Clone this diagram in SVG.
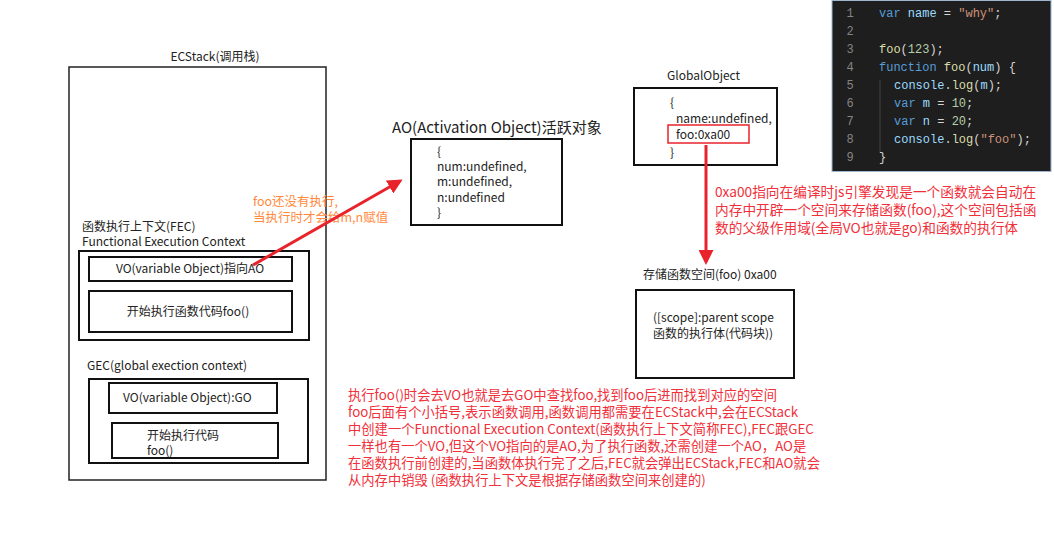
<svg xmlns="http://www.w3.org/2000/svg" width="1054" height="536" viewBox="0 0 1054 536">
<defs>
<style>
.t{font-family:"Noto Sans CJK SC","Noto Sans",sans-serif;font-size:12px;fill:#222}
.r{font-family:"Noto Sans CJK SC","Noto Sans",sans-serif;font-size:13.3px;fill:#f0303a}
.r2{font-family:"Noto Sans CJK SC","Noto Sans",sans-serif;font-size:13.7px;fill:#f0303a}
.o{font-family:"Noto Sans CJK SC","Noto Sans",sans-serif;font-size:12.5px;fill:#ff8a3d}
.b{fill:none;stroke:#111;stroke-width:2}
.c{font-family:"Liberation Mono","DejaVu Sans Mono",monospace;font-size:12px;fill:#d4d4d4}
.ln{fill:#858585}
.kw{fill:#569cd6}.vr{fill:#9cdcfe}.st{fill:#ce9178}.fn{fill:#dcdcaa}.nm{fill:#b5cea8}
</style>
<marker id="ah" viewBox="0 0 10 10" refX="8" refY="5" markerWidth="5" markerHeight="5" orient="auto" markerUnits="strokeWidth">
<path d="M0,0 L10,5 L0,10 z" fill="#e8232b"/>
</marker>
</defs>
<rect width="1054" height="536" fill="#fff"/>

<g id="ecstack">
<text class="t" x="215" y="61" text-anchor="middle">ECStack(调用栈)</text>
<rect x="69" y="67" width="257" height="413" fill="none" stroke="#222" stroke-width="1.5"/>
</g>

<g id="fec">
<text class="t" x="82" y="231">函数执行上下文(FEC)</text>
<text class="t" x="82" y="246">Functional Execution Context</text>
<rect class="b" x="79" y="251" width="230" height="89"/>
</g>
<g id="fec-vo">
<rect class="b" x="89" y="257" width="203" height="24"/>
<text class="t" x="190" y="273" text-anchor="middle">VO(variable Object)指向AO</text>
</g>
<g id="fec-code">
<rect class="b" x="89" y="291" width="203" height="41"/>
<text class="t" x="188" y="316" text-anchor="middle">开始执行函数代码foo()</text>
</g>

<g id="gec">
<text class="t" x="87" y="370">GEC(global exection context)</text>
<rect class="b" x="89" y="379" width="219" height="84"/>
</g>
<g id="gec-vo">
<rect class="b" x="109" y="383" width="168" height="30"/>
<text class="t" x="123" y="402">VO(variable Object):GO</text>
</g>
<g id="gec-code">
<rect class="b" x="112" y="423" width="166" height="35"/>
<text class="t" x="147" y="440">开始执行代码</text>
<text class="t" x="147" y="455">foo()</text>
</g>

<g id="ao">
<text class="t" x="392" y="133" style="font-size:15px">AO(Activation Object)活跃对象</text>
<rect class="b" x="411" y="139" width="151" height="86"/>
<text class="t" x="437" y="156">{</text>
<text class="t" x="437" y="171">num:undefined,</text>
<text class="t" x="437" y="186">m:undefined,</text>
<text class="t" x="437" y="202">n:undefined</text>
<text class="t" x="437" y="217">}</text>
</g>

<g id="globalobject">
<text class="t" x="667" y="80">GlobalObject</text>
<rect class="b" x="634" y="88" width="143" height="77"/>
<text class="t" x="670" y="107">{</text>
<text class="t" x="676" y="123">name:undefined,</text>
<rect x="668" y="125" width="81" height="18" fill="none" stroke="#e8232b" stroke-width="1.5"/>
<text class="t" x="676" y="139">foo:0xa00</text>
<text class="t" x="670" y="157">}</text>
</g>

<g id="storage">
<text class="t" x="643" y="279">存储函数空间(foo) 0xa00</text>
<rect class="b" x="636" y="290" width="158" height="88"/>
<text class="t" x="653" y="322">([scope]:parent scope</text>
<text class="t" x="653" y="338">函数的执行体(代码块))</text>
</g>

<g id="code">
<rect x="832" y="0.5" width="219" height="171" fill="#1e1e1e" stroke="#9fb6d0" stroke-width="1"/>
<line x1="880" y1="80" x2="880" y2="152" stroke="#404040" stroke-width="1"/>
<g class="c">
<text x="850" y="17" text-anchor="middle" class="ln">1</text>
<text x="850" y="35" text-anchor="middle" class="ln">2</text>
<text x="850" y="53" text-anchor="middle" class="ln">3</text>
<text x="850" y="71" text-anchor="middle" class="ln">4</text>
<text x="850" y="89" text-anchor="middle" class="ln">5</text>
<text x="850" y="107" text-anchor="middle" class="ln">6</text>
<text x="850" y="125" text-anchor="middle" class="ln">7</text>
<text x="850" y="143" text-anchor="middle" class="ln">8</text>
<text x="850" y="161" text-anchor="middle" class="ln">9</text>
<text x="879" y="17" xml:space="preserve"><tspan class="kw">var</tspan> <tspan class="vr">name</tspan> = <tspan class="st">"why"</tspan>;</text>
<text x="879" y="53"><tspan class="fn">foo</tspan>(<tspan class="nm">123</tspan>);</text>
<text x="879" y="71" xml:space="preserve"><tspan class="kw">function</tspan> <tspan class="fn">foo</tspan>(<tspan class="vr">num</tspan>) {</text>
<text x="894" y="89"><tspan class="vr">console</tspan>.<tspan class="fn">log</tspan>(<tspan class="vr">m</tspan>);</text>
<text x="894" y="107" xml:space="preserve"><tspan class="kw">var</tspan> <tspan class="vr">m</tspan> = <tspan class="nm">10</tspan>;</text>
<text x="894" y="125" xml:space="preserve"><tspan class="kw">var</tspan> <tspan class="vr">n</tspan> = <tspan class="nm">20</tspan>;</text>
<text x="894" y="143"><tspan class="vr">console</tspan>.<tspan class="fn">log</tspan>(<tspan class="st">"foo"</tspan>);</text>
<text x="879" y="161">}</text>
</g>
</g>

<g id="note-orange">
<text class="o" x="253" y="206">foo还没有执行,</text>
<text class="o" x="253" y="222">当执行时才会给m,n赋值</text>
</g>

<g id="note-right">
<text class="r2" x="715" y="197">0xa00指向在编译时js引擎发现是一个函数就会自动在</text>
<text class="r2" x="715" y="215">内存中开辟一个空间来存储函数(foo),这个空间包括函</text>
<text class="r2" x="715" y="233">数的父级作用域(全局VO也就是go)和函数的执行体</text>
</g>

<g id="note-bottom">
<text class="r" x="348" y="400">执行foo()时会去VO也就是去GO中查找foo,找到foo后进而找到对应的空间</text>
<text class="r" x="348" y="417">foo后面有个小括号,表示函数调用,函数调用都需要在ECStack中,会在ECStack</text>
<text class="r" x="348" y="434">中创建一个Functional Execution Context(函数执行上下文简称FEC),FEC跟GEC</text>
<text class="r" x="348" y="451">一样也有一个VO,但这个VO指向的是AO,为了执行函数,还需创建一个AO，AO是</text>
<text class="r" x="348" y="468">在函数执行前创建的,当函数体执行完了之后,FEC就会弹出ECStack,FEC和AO就会</text>
<text class="r" x="348" y="485">从内存中销毁 (函数执行上下文是根据存储函数空间来创建的)</text>
</g>

<g id="connectors">
<line x1="253" y1="265" x2="400" y2="181" stroke="#e8232b" stroke-width="3" marker-end="url(#ah)"/>
<line x1="706" y1="145" x2="706" y2="262" stroke="#e8232b" stroke-width="3" marker-end="url(#ah)"/>
</g>
</svg>
